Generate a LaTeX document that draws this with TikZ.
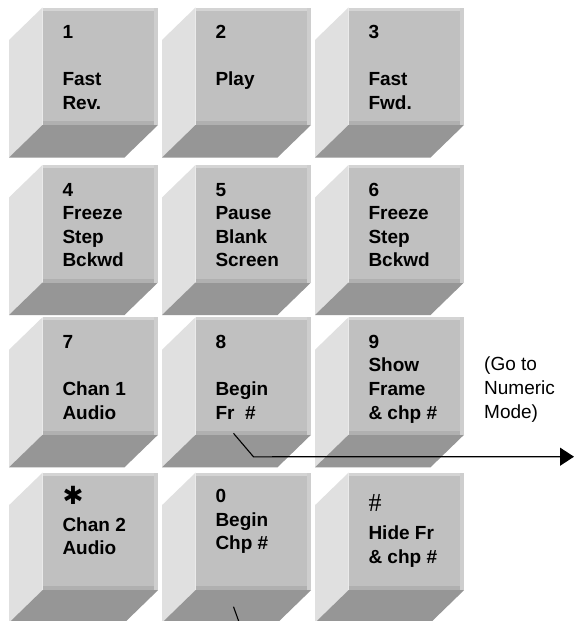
\documentclass[tikz,border=0pt]{standalone}
\usepackage{fontspec}
\setmainfont{Liberation Sans}
\newfontfamily\serifhash{Liberation Serif}
\newfontfamily\dejavu{DejaVu Sans}
\usetikzlibrary{arrows.meta,calc}
\definecolor{facecol}{RGB}{192,192,192}
\definecolor{sidecol}{RGB}{224,224,224}
\definecolor{botcol}{RGB}{150,150,150}
\definecolor{topband}{RGB}{212,212,212}
\definecolor{rightband}{RGB}{206,206,206}
\definecolor{botband}{RGB}{176,176,176}
\def\kdx{33.5}
\def\kdy{32.5}
\newcommand{\keylines}[1]{\parbox[t]{120pt}{\raggedright\fontsize{19}{23.6}\selectfont\bfseries #1}}
\newcommand{\keycap}[5]{% name, x, y, text, first-baseline offset
  \node[face] (#1) at (#2,#3) {};
  \fill[sidecol] (#1.north west) -- ++(-\kdx,\kdy) -- ($(#1.south west)+(-\kdx,\kdy)$) -- (#1.south west) -- cycle;
  \fill[botcol] (#1.south west) -- (#1.south east) -- ++(-\kdx,\kdy) -- ($(#1.south west)+(-\kdx,\kdy)$) -- cycle;
  \fill[botband] (#1.south west) rectangle ($(#1.south east)+(0,-4)$);
  \fill[topband] (#1.north west) rectangle ($(#1.north east)+(0,3)$);
  \fill[rightband] ($(#1.north east)+(-4,0)$) rectangle (#1.south east);
  \node[keytext] (t#1) at ($(#1.north west)+(20,#5)$) {\keylines{#4}};
}
\begin{document}
\begin{tikzpicture}[x=1pt,y=-1pt,
  face/.style={rectangle,draw=none,fill=facecol,inner sep=0pt,outer sep=0pt,
    minimum width=115.5pt,minimum height=117.5pt,anchor=north west},
  keytext/.style={anchor=base west,inner sep=0pt,outer sep=0pt},
  conn/.style={line width=1.1pt,black}]
\useasboundingbox (0,0) rectangle (574,621);
\fill[white] (0,0) rectangle (574,621);
\clip (0,0) rectangle (574,621);

\keycap{k1}{42.5}{7.5}{1\\\mbox{}\\Fast\\Rev.}{31}
\keycap{k2}{195.5}{7.5}{2\\\mbox{}\\Play}{31}
\keycap{k3}{348.5}{7.5}{3\\\mbox{}\\Fast\\Fwd.}{31}

\keycap{k4}{42.5}{165}{4\\Freeze\\Step\\Bckwd}{31}
\keycap{k5}{195.5}{165}{5\\Pause\\Blank\\Screen}{31}
\keycap{k6}{348.5}{165}{6\\Freeze\\Step\\Bckwd}{31}

\keycap{k7}{42.5}{317.3}{7\\\mbox{}\\Chan 1\\Audio}{31}
\keycap{k8}{195.5}{317.3}{8\\\mbox{}\\Begin\\Fr\ \ \#}{31}
\keycap{k9}{348.5}{317.3}{9\\Show\\Frame\\\&\ chp \#}{31}

\keycap{kstar}{42.5}{472.7}{\raisebox{-1.5pt}{\dejavu\fontsize{25}{25}\selectfont ✱}\\[5pt]Chan 2\\Audio}{30}
\keycap{k0}{195.5}{472.7}{0\\Begin\\Chp \#}{30}
\keycap{khash}{348.5}{472.7}{{\serifhash\mdseries\fontsize{26}{26}\selectfont\#}\\[5pt]Hide Fr\\\&\ chp \#}{38.5}

\node[anchor=base west,inner sep=0pt] (gotxt) at (484,370)
  {\parbox[t]{90pt}{\raggedright\fontsize{19}{24}\selectfont (Go to\\Numeric\\Mode)}};

\coordinate (a8) at ($(k8.south west)+(38,-1.5)$);
\coordinate (b8) at ($(k8.south west)+(58,22)$);
\coordinate (goto) at (574,456.7);
\draw[conn,-{Triangle[length=14pt,width=18pt]}] (a8) -- (b8) -- (goto);

\coordinate (a0) at ($(k0.south west)+(38,16.5)$);
\coordinate (b0) at ($(k0.south west)+(45,36)$);
\draw[conn] (a0) -- (b0);
\end{tikzpicture}
\end{document}
